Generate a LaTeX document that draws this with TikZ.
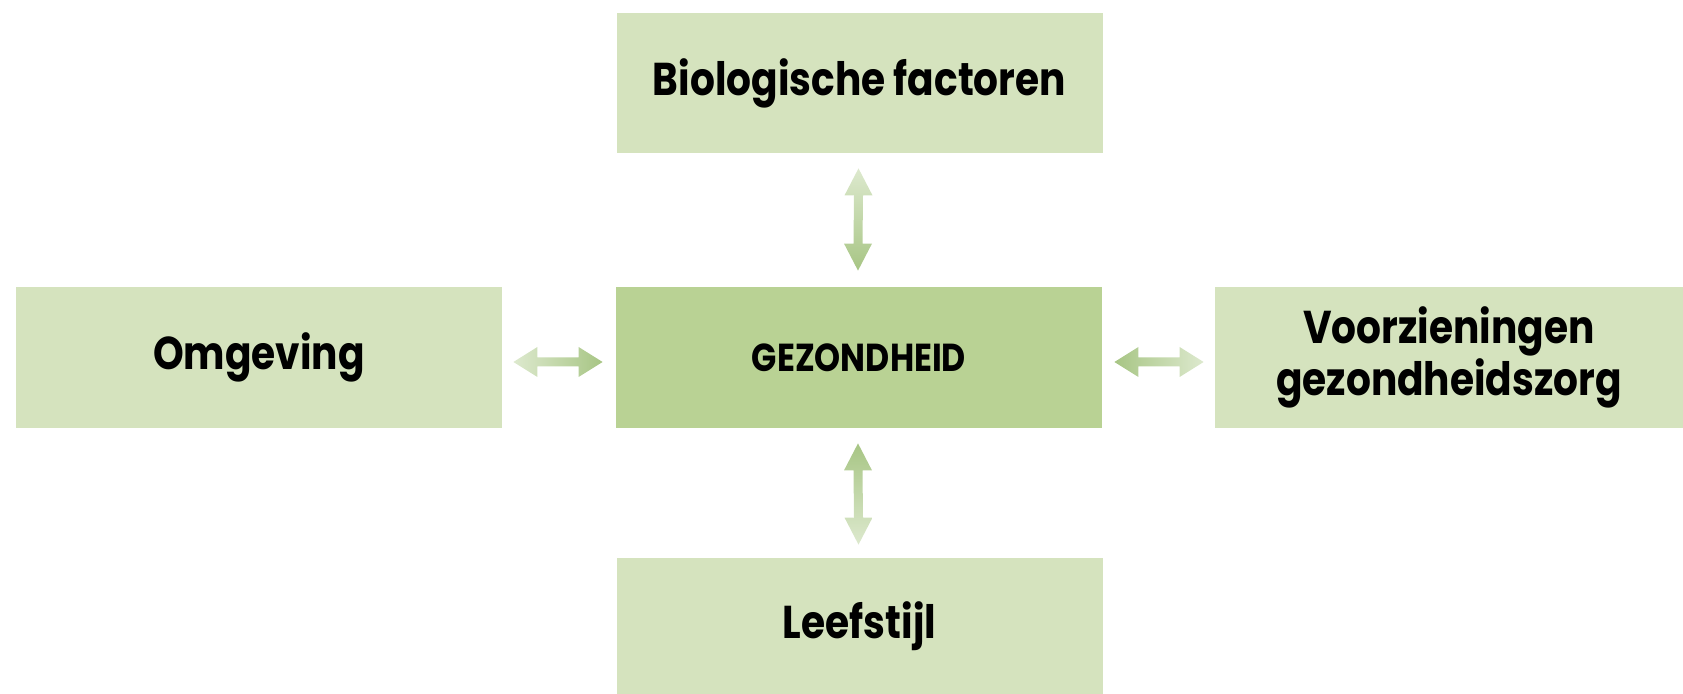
\documentclass[tikz,border=0pt]{standalone}
\usepackage{fontspec}
\setmainfont{Poppins}[FakeStretch=0.85]
\usetikzlibrary{calc}
\definecolor{boxlight}{HTML}{D5E3BE}
\definecolor{boxdark}{HTML}{B9D294}
\definecolor{arrlight}{HTML}{DDE9CE}
\definecolor{arrdark}{HTML}{A7C584}
\tikzset{
  factor/.style={fill=boxlight, draw=none, inner sep=0pt, align=center,
    font=\fontsize{23}{24}\selectfont\bfseries},
  central/.style={fill=boxdark, draw=none, inner sep=0pt, align=center,
    font=\fontsize{19.5}{20}\selectfont\bfseries},
}
\newcommand{\varrowshape}[2]{%
  (#1) -- ++(14,27) -- ++(-9.5,0) -- ($(#2)+(4.5,-27)$) -- ++(9.5,0) -- (#2)
  -- ++(-14,-27) -- ++(9.5,0) -- ($(#1)+(-4.5,27)$) -- ++(-9.5,0) -- cycle}
\newcommand{\harrowshape}[2]{%
  (#1) -- ++(24,-15) -- ++(0,10.5) -- ($(#2)+(-24,-4.5)$) -- ++(0,-10.5) -- (#2)
  -- ++(-24,15) -- ++(0,-10.5) -- ($(#1)+(24,4.5)$) -- ++(0,10.5) -- cycle}
\begin{document}
\begin{tikzpicture}[x=0.5pt, y=-0.5pt]
\useasboundingbox (0,0) rectangle (1683,694);
\node[factor, minimum width=243pt, minimum height=70pt] (bio) at (859.5,83) {Biologische factoren};
\node[factor, minimum width=243pt, minimum height=70.5pt] (omg) at (259,357.5) {Omgeving};
\node[central, minimum width=243pt, minimum height=70.5pt] (gez) at (859,357.5) {GEZONDHEID};
\node[factor, minimum width=234pt, minimum height=70.5pt] (voo) at (1449,357.5) {Voorzieningen\\gezondheidszorg};
\node[factor, minimum width=243pt, minimum height=68pt] (lee) at (859.5,626) {Leefstijl};
% connector end points
\coordinate (t1) at ($(bio.south)+(-1,15)$);
\coordinate (t2) at ($(gez.north)+(-1,-16)$);
\coordinate (b1) at ($(gez.south)+(-1,15)$);
\coordinate (b2) at ($(lee.north)+(-1,-13)$);
\coordinate (l1) at ($(omg.east)+(11,4.5)$);
\coordinate (l2) at ($(gez.west)+(-13,4.5)$);
\coordinate (r1) at ($(gez.east)+(12,4.5)$);
\coordinate (r2) at ($(voo.west)+(-11,4.5)$);
\shade[top color=arrlight, bottom color=arrdark] \varrowshape{t1}{t2};
\shade[top color=arrdark, bottom color=arrlight] \varrowshape{b1}{b2};
\shade[left color=arrlight, right color=arrdark] \harrowshape{l1}{l2};
\shade[left color=arrdark, right color=arrlight] \harrowshape{r1}{r2};
\end{tikzpicture}
\end{document}
